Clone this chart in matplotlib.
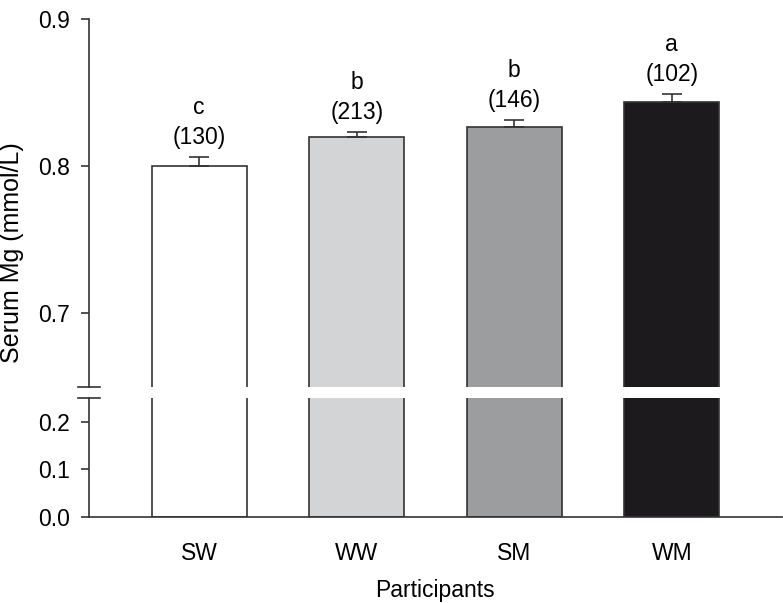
import numpy as np
import matplotlib.pyplot as plt

plt.rcParams['font.family'] = ['Liberation Sans', 'DejaVu Sans']

# Datos
grupos = ['SW', 'WW', 'SM', 'WM']
medias = [0.800, 0.8195, 0.8267, 0.8435]
errores = [0.0060, 0.0037, 0.0046, 0.0055]
letras = ['c', 'b', 'b', 'a']
n_part = ['(130)', '(213)', '(146)', '(102)']
colores = ['#ffffff', '#d3d4d6', '#9c9d9f', '#1c1a1d']

borde = '#333333'
fs = 16.5

fig = plt.figure(figsize=(7.83, 6.03), dpi=100)
ax_sup = fig.add_axes([89/783, 1-387/603, 693/783, 368/603])
ax_inf = fig.add_axes([89/783, 1-517/603, 693/783, 119/603])

x = np.arange(len(grupos))
for ax in (ax_sup, ax_inf):
    ax.bar(x, medias, width=0.605, color=colores, edgecolor=borde, linewidth=1.2)
    ax.set_xlim(-0.70, 3.70)
    for s in ['top', 'right']:
        ax.spines[s].set_visible(False)
    ax.spines['left'].set_color(borde)
    ax.spines['left'].set_linewidth(1.2)
    ax.tick_params(axis='y', direction='out', length=6, width=1.2, color=borde,
                   pad=7.5, labelsize=fs)

# barras de error, solo hacia arriba
ax_sup.errorbar(x, medias, yerr=[np.zeros(4), errores], fmt='none',
                ecolor=borde, elinewidth=1.2, capsize=7, capthick=1.2)

ax_sup.set_ylim(0.65, 0.9)
ax_sup.set_yticks([0.7, 0.8, 0.9])
ax_sup.set_yticklabels(['0.7', '0.8', '0.9'])
ax_sup.spines['bottom'].set_visible(False)
ax_sup.set_xticks([])

ax_inf.set_ylim(0, 0.25)
ax_inf.set_yticks([0.0, 0.1, 0.2])
ax_inf.set_yticklabels(['0.0', '0.1', '0.2'])
ax_inf.spines['bottom'].set_color(borde)
ax_inf.spines['bottom'].set_linewidth(1.2)
ax_inf.set_xticks(x)
ax_inf.set_xticklabels(grupos)
ax_inf.tick_params(axis='x', length=0, pad=18, labelsize=fs)

# letras y numero de participantes
for i in range(len(grupos)):
    tope = medias[i] + errores[i]
    ax_sup.annotate(n_part[i], (x[i], tope), xytext=(0, 20), textcoords='offset pixels',
                    ha='center', va='center', fontsize=fs)
    ax_sup.annotate(letras[i], (x[i], tope), xytext=(0, 50), textcoords='offset pixels',
                    ha='center', va='center', fontsize=fs)

# marcas de corte del eje
xm = [-11/693, 11/693]
ax_sup.plot(xm, [0, 0], color=borde, lw=1.2, transform=ax_sup.transAxes, clip_on=False)
ax_inf.plot(xm, [1, 1], color=borde, lw=1.2, transform=ax_inf.transAxes, clip_on=False)

fig.text(435/783, 1-591/603, 'Participants', ha='center', va='center', fontsize=fs)
fig.text(12/783, 1-253/603, 'Serum Mg (mmol/L)', rotation=90, ha='center', va='center',
         fontsize=18)

fig.savefig('out.png', dpi=100)
